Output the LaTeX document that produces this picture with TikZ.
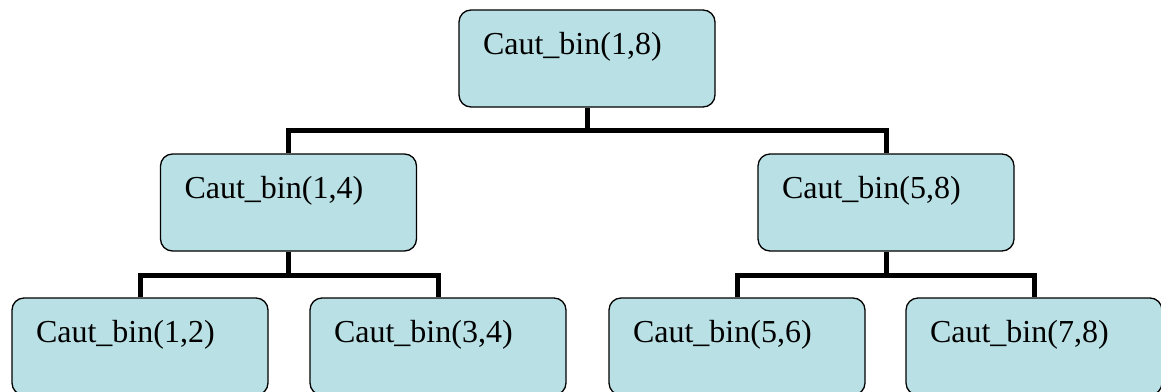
\documentclass[tikz,border=0pt]{standalone}
\usepackage{fontspec}
\setmainfont{Liberation Serif}
\definecolor{boxfill}{RGB}{185,224,228}
\begin{document}
\begin{tikzpicture}[x=1pt,y=-1pt,
  box/.style={draw=black, line width=1.3pt, fill=boxfill, rounded corners=12pt,
    inner xsep=24pt, inner ysep=0pt, text width=208pt, align=left,
    text height=44pt, text depth=53pt,
    font=\fontsize{32}{38}\selectfont},
  conn/.style={line width=5pt, draw=black}]
\useasboundingbox (0,0) rectangle (1161,391);
\node[box] (t) at (587,58.5) {Caut\_bin(1,8)};
\node[box] (ml) at (288.5,202.5) {Caut\_bin(1,4)};
\node[box] (mr) at (886,202.5) {Caut\_bin(5,8)};
\node[box] (b1) at (140,346.5) {Caut\_bin(1,2)};
\node[box] (b2) at (438,346.5) {Caut\_bin(3,4)};
\node[box] (b3) at (737,346.5) {Caut\_bin(5,6)};
\node[box] (b4) at (1034,346.5) {Caut\_bin(7,8)};
\draw[conn] (t.south) -- (t.south |- 0,130) -| (ml.north);
\draw[conn] (t.south |- 0,130) -| (mr.north);
\draw[conn] (ml.south) -- (ml.south |- 0,275) -| (b1.north);
\draw[conn] (ml.south |- 0,275) -| (b2.north);
\draw[conn] (mr.south) -- (mr.south |- 0,275) -| (b3.north);
\draw[conn] (mr.south |- 0,275) -| (b4.north);
\end{tikzpicture}
\end{document}
